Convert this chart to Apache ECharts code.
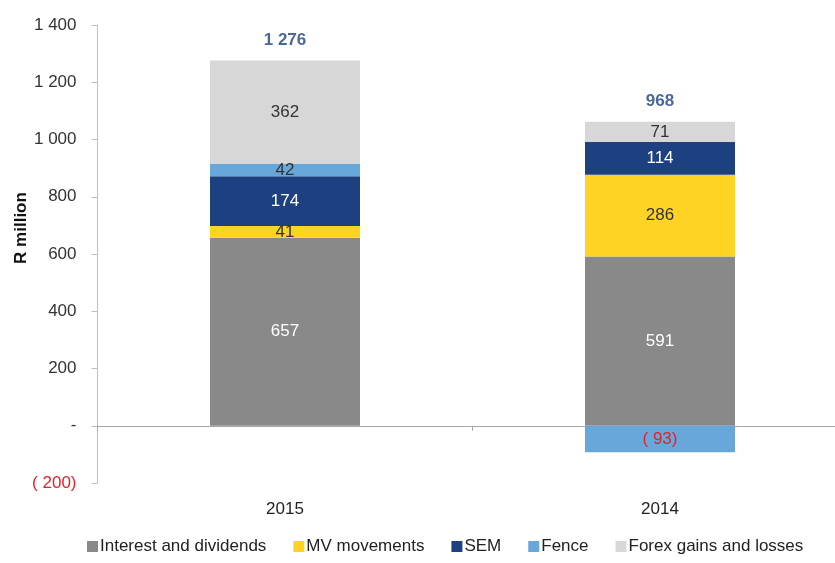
<!DOCTYPE html>
<html>
<head>
<meta charset="utf-8">
<script src="https://cdn.jsdelivr.net/npm/echarts@6/dist/echarts.min.js"></script>
<style>
  html, body { margin: 0; padding: 0; background: #fff; }
  #main { width: 835px; height: 563px; }
</style>
</head>
<body>
<div id="main"></div>
<script>
// chart data
const years = ['2015', '2014']
const interest = [657, 591]
const mvMovements = [41, 286]
const sem = [174, 114]
const fence = [42, -93]
const forex = [362, 71]
const totals = ['1 276', '968']

const FONT = '"Liberation Sans Narrow", "Liberation Sans", Arial, sans-serif'

function fmtNum(v) {
  if (v === 0) return '-'
  const s = String(Math.abs(v)).replace(/\B(?=(\d{3})+(?!\d))/g, ' ')
  return v < 0 ? '( ' + s + ')' : s
}

// top of the positive stack, where the total label sits
const tops = years.map((y, i) =>
  [interest, mvMovements, sem, fence, forex].reduce((a, arr) => a + Math.max(arr[i], 0), 0))

function barSeries(name, data, color, labelColor) {
  return {
    name: name,
    type: 'bar',
    stack: 'total',
    xAxisIndex: 0,
    barWidth: 150,
    itemStyle: { color: color },
    label: {
      show: true,
      position: 'inside',
      fontFamily: FONT,
      fontSize: 17,
      color: labelColor,
      formatter(p) {
        return fmtNum(p.value)
      }
    },
    data: data.map(v => ({
      value: v,
      label: v < 0 ? { color: '#e8202a' } : {}
    }))
  }
}

const chart = echarts.init(document.getElementById('main'))
chart.setOption({
  backgroundColor: '#fff',
  animation: false,
  textStyle: { fontFamily: FONT },
  grid: {
    left: 97.5,
    top: 25,
    bottom: 80,
    width: 750,
    containLabel: false,
    outerBoundsMode: 'none'
  },
  legend: {
    bottom: 3,
    left: 82,
    itemWidth: 11,
    itemHeight: 11,
    itemGap: 27,
    icon: 'rect',
    textStyle: { fontFamily: FONT, fontSize: 17, color: '#222', padding: [0, 0, 0, -3] },
    data: ['Interest and dividends', 'MV movements', 'SEM', 'Fence', 'Forex gains and losses']
  },
  xAxis: [
    {
      type: 'category',
      data: years,
      axisLine: { onZero: true, lineStyle: { color: '#a6a6a6' } },
      axisTick: { show: true, length: 5, lineStyle: { color: '#a6a6a6' } },
      axisLabel: { show: false }
    },
    {
      type: 'category',
      data: years,
      position: 'bottom',
      axisLine: { show: false, onZero: false },
      axisTick: { show: false },
      axisLabel: { fontFamily: FONT, fontSize: 17, color: '#222', margin: 18 }
    }
  ],
  yAxis: {
    type: 'value',
    min: -200,
    max: 1400,
    interval: 200,
    name: 'R million',
    nameLocation: 'middle',
    nameGap: 68,
    nameMoveOverlap: false,
    nameTextStyle: { fontFamily: FONT, fontSize: 17, fontWeight: 'bold', color: '#111', padding: [0, 0, 0, 52] },
    axisLine: { show: true, lineStyle: { color: '#bfbfbf' } },
    axisTick: { show: true, inside: false, length: 6, lineStyle: { color: '#bfbfbf' } },
    splitLine: { show: false },
    axisLabel: {
      fontFamily: FONT,
      fontSize: 17,
      margin: 21,
      color: '#333',
      formatter(v) {
        return v < 0 ? '{neg|' + fmtNum(v) + '}' : fmtNum(v)
      },
      rich: { neg: { color: '#e8202a', fontFamily: FONT, fontSize: 17 } }
    }
  },
  series: [
    barSeries('Interest and dividends', interest, '#898989', '#fff'),
    barSeries('MV movements', mvMovements, '#ffd324', '#333'),
    barSeries('SEM', sem, '#1d4180', '#fff'),
    barSeries('Fence', fence, '#67a7da', '#333'),
    barSeries('Forex gains and losses', forex, '#d7d7d7', '#333'),
    {
      name: 'total',
      type: 'scatter',
      xAxisIndex: 0,
      symbolSize: 0,
      silent: true,
      label: {
        show: true,
        position: 'top',
        distance: 12,
        fontFamily: FONT,
        fontSize: 17,
        fontWeight: 'bold',
        color: '#1d4180',
        formatter(p) {
          return totals[p.dataIndex]
        }
      },
      data: tops
    }
  ]
})
</script>
</body>
</html>
